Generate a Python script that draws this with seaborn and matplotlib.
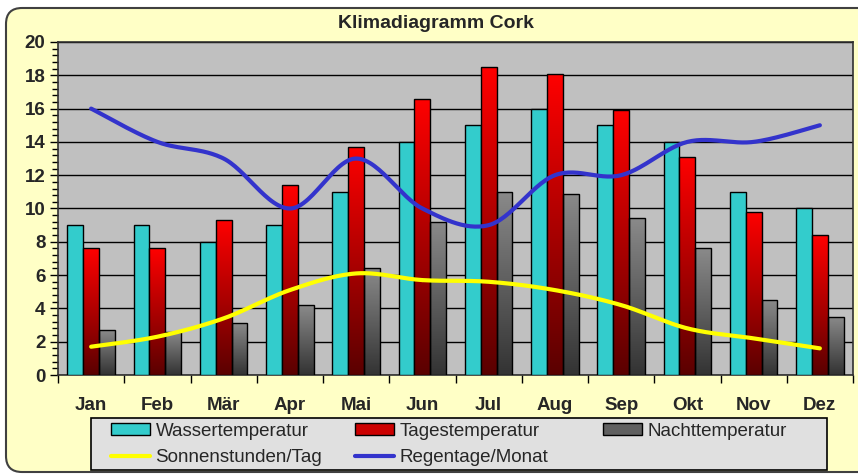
import numpy as np
import pandas as pd
import seaborn as sns
import matplotlib as mpl
import matplotlib.pyplot as plt
from matplotlib.patches import FancyBboxPatch, Patch, Rectangle
from matplotlib.lines import Line2D
from matplotlib.colors import LinearSegmentedColormap
from matplotlib.transforms import IdentityTransform

# %%
monate = ['Jan', 'Feb', 'Mär', 'Apr', 'Mai', 'Jun', 'Jul', 'Aug', 'Sep', 'Okt', 'Nov', 'Dez']
wasser = [9, 9, 8, 9, 11, 14, 15, 16, 15, 14, 11, 10]
tages = [7.6, 7.6, 9.3, 11.4, 13.7, 16.6, 18.5, 18.1, 15.9, 13.1, 9.8, 8.4]
nacht = [2.7, 2.6, 3.1, 4.2, 6.4, 9.2, 11.0, 10.9, 9.4, 7.6, 4.5, 3.5]
sonne = [1.7, 2.3, 3.4, 5.1, 6.1, 5.7, 5.6, 5.1, 4.2, 2.8, 2.2, 1.6]
regen = [16, 14, 13, 10, 13, 10, 9, 12, 12, 14, 14, 15]

serien = ['Wassertemperatur', 'Tagestemperatur', 'Nachttemperatur']

# %%
df = pd.DataFrame({'Monat': monate * 3,
                   'Serie': np.repeat(serien, 12),
                   'Wert': wasser + tages + nacht})

sns.set_style('white')
plt.rcParams['font.family'] = ['Liberation Sans', 'DejaVu Sans']

fig = plt.figure(figsize=(8.58, 4.75), dpi=100)
fig.patch.set_facecolor('white')
bg = FancyBboxPatch((6, 3), 900, 464, boxstyle='round,pad=0,rounding_size=16',
                    transform=IdentityTransform(), facecolor='#FFFFC6',
                    edgecolor='#404040', linewidth=1.5, zorder=-10)
fig.patches.append(bg)
legbox = Rectangle((91, 5), 736, 52, transform=IdentityTransform(),
                   facecolor='#E0E0E0', edgecolor='black', linewidth=1.2, zorder=-5)
fig.patches.append(legbox)

ax = fig.add_axes([58 / 858, 100 / 475, 795 / 858, 333 / 475])
ax.set_facecolor('#C0C0C0')

sns.barplot(data=df, x='Monat', y='Wert', hue='Serie', hue_order=serien,
            palette=['#33CCCC', '#FF0000', '#808080'], width=0.72, gap=0,
            saturation=1, edgecolor='black', linewidth=1, legend=False, ax=ax,
            zorder=3)

# gradients on red and gray bars
cmaps = [None,
         LinearSegmentedColormap.from_list('rot', ['#5A0000', '#FF0000']),
         LinearSegmentedColormap.from_list('grau', ['#333333', '#8A8A8A'])]
grad = np.linspace(0, 1, 256).reshape(-1, 1)
for cont, cm in zip(ax.containers, cmaps):
    if cm is None:
        continue
    for bar in cont:
        x0, y0 = bar.get_x(), bar.get_y()
        w, h = bar.get_width(), bar.get_height()
        im = ax.imshow(grad, cmap=cm, aspect='auto', origin='lower',
                       extent=[x0, x0 + w, y0, y0 + h], zorder=3.1)
        im.set_clip_path(bar)
        bar.set_facecolor('none')
        bar.set_zorder(3.2)


def glatt(y, n=30):
    # Excel-like smoothed line (Catmull-Rom) through the points
    y = np.asarray(y, float)
    x = np.arange(len(y), dtype=float)
    P = np.column_stack([x, y])
    P = np.vstack([P[0], P, P[-1]])
    out = []
    for i in range(1, len(P) - 2):
        p0, p1, p2, p3 = P[i - 1], P[i], P[i + 1], P[i + 2]
        t = np.linspace(0, 1, n)[:, None]
        seg = 0.5 * ((2 * p1) + (-p0 + p2) * t + (2 * p0 - 5 * p1 + 4 * p2 - p3) * t ** 2
                     + (-p0 + 3 * p1 - 3 * p2 + p3) * t ** 3)
        out.append(seg)
    out = np.vstack(out)
    return out[:, 0], out[:, 1]


xs, ys = glatt(sonne)
ax.plot(xs, ys, color='#FFFF00', lw=3, zorder=5, solid_capstyle='round')
xr, yr = glatt(regen)
ax.plot(xr, yr, color='#3333CC', lw=3, zorder=5, solid_capstyle='round')

ax.set_xlim(-0.5, 11.5)
ax.set_ylim(0, 20)
ax.set_yticks(np.arange(0, 21, 2))
ax.set_yticks(np.arange(0, 20.01, 0.4), minor=True)
ax.yaxis.grid(True, which='major', color='black', lw=1, zorder=1)
ax.set_axisbelow(True)
ax.tick_params(axis='y', which='major', direction='out', length=6, width=1,
               color='black', left=True, pad=3, labelsize=13.5)
ax.tick_params(axis='y', which='minor', direction='out', length=4, width=1,
               color='black', left=True)
for lab in ax.get_yticklabels():
    lab.set_fontweight('bold')

ax.set_xticks(np.arange(-0.5, 12, 1))
ax.set_xticklabels([''] * 13)
ax.set_xticks(np.arange(12), minor=True)
ax.set_xticklabels(monate, minor=True, fontweight='bold', fontsize=13.5)
ax.tick_params(axis='x', which='major', direction='out', length=6, width=1,
               color='black', bottom=True)
ax.tick_params(axis='x', which='minor', length=0, pad=15.5)
ax.set_xlabel('')
ax.set_ylabel('')
for s in ax.spines.values():
    s.set_color('#303030')
    s.set_linewidth(1.2)

fig.text(436 / 858, 1 - 23 / 475, 'Klimadiagramm Cork', ha='center', va='center',
         fontsize=14, fontweight='bold')

# legend: one column per legend so the columns sit where Excel put them
spalten = [
    ([Patch(facecolor='#33CCCC', edgecolor='black'), Line2D([], [], color='#FFFF00', lw=3)],
     ['Wassertemperatur', 'Sonnenstunden/Tag'], 111),
    ([Patch(facecolor='#CC0000', edgecolor='black'), Line2D([], [], color='#3333CC', lw=3)],
     ['Tagestemperatur', 'Regentage/Monat'], 355),
    ([Patch(facecolor='#606060', edgecolor='black')], ['Nachttemperatur'], 603),
]
for h, l, xpx in spalten:
    fig.legend(h, l, ncol=1, loc='upper left',
               bbox_to_anchor=(xpx / 858, 1 - 423 / 475),
               frameon=False, fontsize=13.5,
               handlelength=2.1, handleheight=0.6, handletextpad=0.27,
               borderaxespad=0, labelspacing=0.5, borderpad=0)

fig.savefig('out.png', dpi=100)
